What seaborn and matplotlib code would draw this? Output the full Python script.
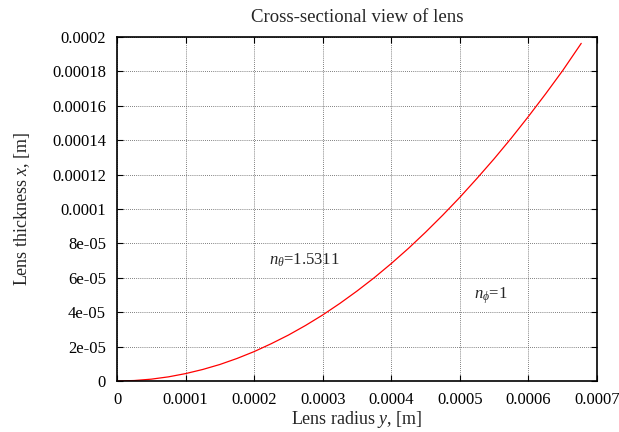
import matplotlib
matplotlib.use("Agg")
import matplotlib.pyplot as plt
import seaborn as sns
import pandas as pd

# Data
lens_radius = [0.0, 0.000025, 0.00005, 0.000075, 0.0001, 0.000125, 0.00015, 0.000175,
               0.0002, 0.000225, 0.00025, 0.000275, 0.0003, 0.000325, 0.00035,
               0.000375, 0.0004, 0.000425, 0.00045, 0.000475, 0.0005, 0.000525,
               0.00055, 0.000575, 0.0006, 0.000625, 0.00065, 0.000677]
lens_thickness = [0.0, 2.7e-7, 1.07e-6, 2.41e-6, 4.3e-6, 6.7e-6, 9.6e-6, 1.31e-5,
                  1.71e-5, 2.17e-5, 2.67e-5, 3.23e-5, 3.84e-5, 4.51e-5, 5.23e-5,
                  6.0e-5, 6.83e-5, 7.71e-5, 8.65e-5, 9.64e-5, 1.068e-4, 1.178e-4,
                  1.292e-4, 1.412e-4, 1.538e-4, 1.669e-4, 1.805e-4, 1.963e-4]
x_ticks = [0, 0.0001, 0.0002, 0.0003, 0.0004, 0.0005, 0.0006, 0.0007]
x_tick_labels = ["0", "0.0001", "0.0002", "0.0003", "0.0004", "0.0005", "0.0006", "0.0007"]
y_ticks = [0, 2e-5, 4e-5, 6e-5, 8e-5, 1e-4, 1.2e-4, 1.4e-4, 1.6e-4, 1.8e-4, 2e-4]
y_tick_labels = ["0", "2e-05", "4e-05", "6e-05", "8e-05", "0.0001", "0.00012",
                 "0.00014", "0.00016", "0.00018", "0.0002"]

sns.set_style("ticks")
plt.rcParams["font.family"] = ["Liberation Serif", "DejaVu Serif"]
plt.rcParams["mathtext.fontset"] = "custom"
plt.rcParams["mathtext.rm"] = "Liberation Serif"
plt.rcParams["mathtext.it"] = "Liberation Serif:italic"
plt.rcParams["mathtext.bf"] = "Liberation Serif:bold"

df = pd.DataFrame({"radius": lens_radius, "thickness": lens_thickness})

fig = plt.figure(figsize=(6.19, 4.32), dpi=100)
ax = fig.add_axes([117 / 619, 51 / 432, 480 / 619, 344 / 432])

sns.lineplot(data=df, x="radius", y="thickness", ax=ax, color="red", linewidth=0.9)

ax.set_xlim(0, 0.0007)
ax.set_ylim(0, 0.0002)
ax.set_xticks(x_ticks)
ax.set_xticklabels(x_tick_labels)
ax.set_yticks(y_ticks)
ax.set_yticklabels(y_tick_labels)
ax.tick_params(direction="in", top=True, right=True, length=4, width=0.8,
               labelsize=12, colors="black", pad=8)
ax.grid(True, linestyle=(0, (1, 1.5)), color="#555555", linewidth=0.6)
for s in ax.spines.values():
    s.set_visible(True)
    s.set_linewidth(1.2)
    s.set_color("black")

ax.set_title("Cross-sectional view of lens", fontsize=13.5, pad=11)
ax.set_xlabel("Lens radius $y$, [m]", fontsize=13, labelpad=1)
ax.set_ylabel("Lens thickness $x$, [m]", fontsize=13, labelpad=14)

ax.text(0.000222, 7.0e-5, r"$n_\theta$=1.5311", fontsize=12, va="center", ha="left")
ax.text(0.000521, 4.95e-5, r"$n_\phi$=1", fontsize=12, va="center", ha="left")

fig.savefig("out.png", dpi=100)
